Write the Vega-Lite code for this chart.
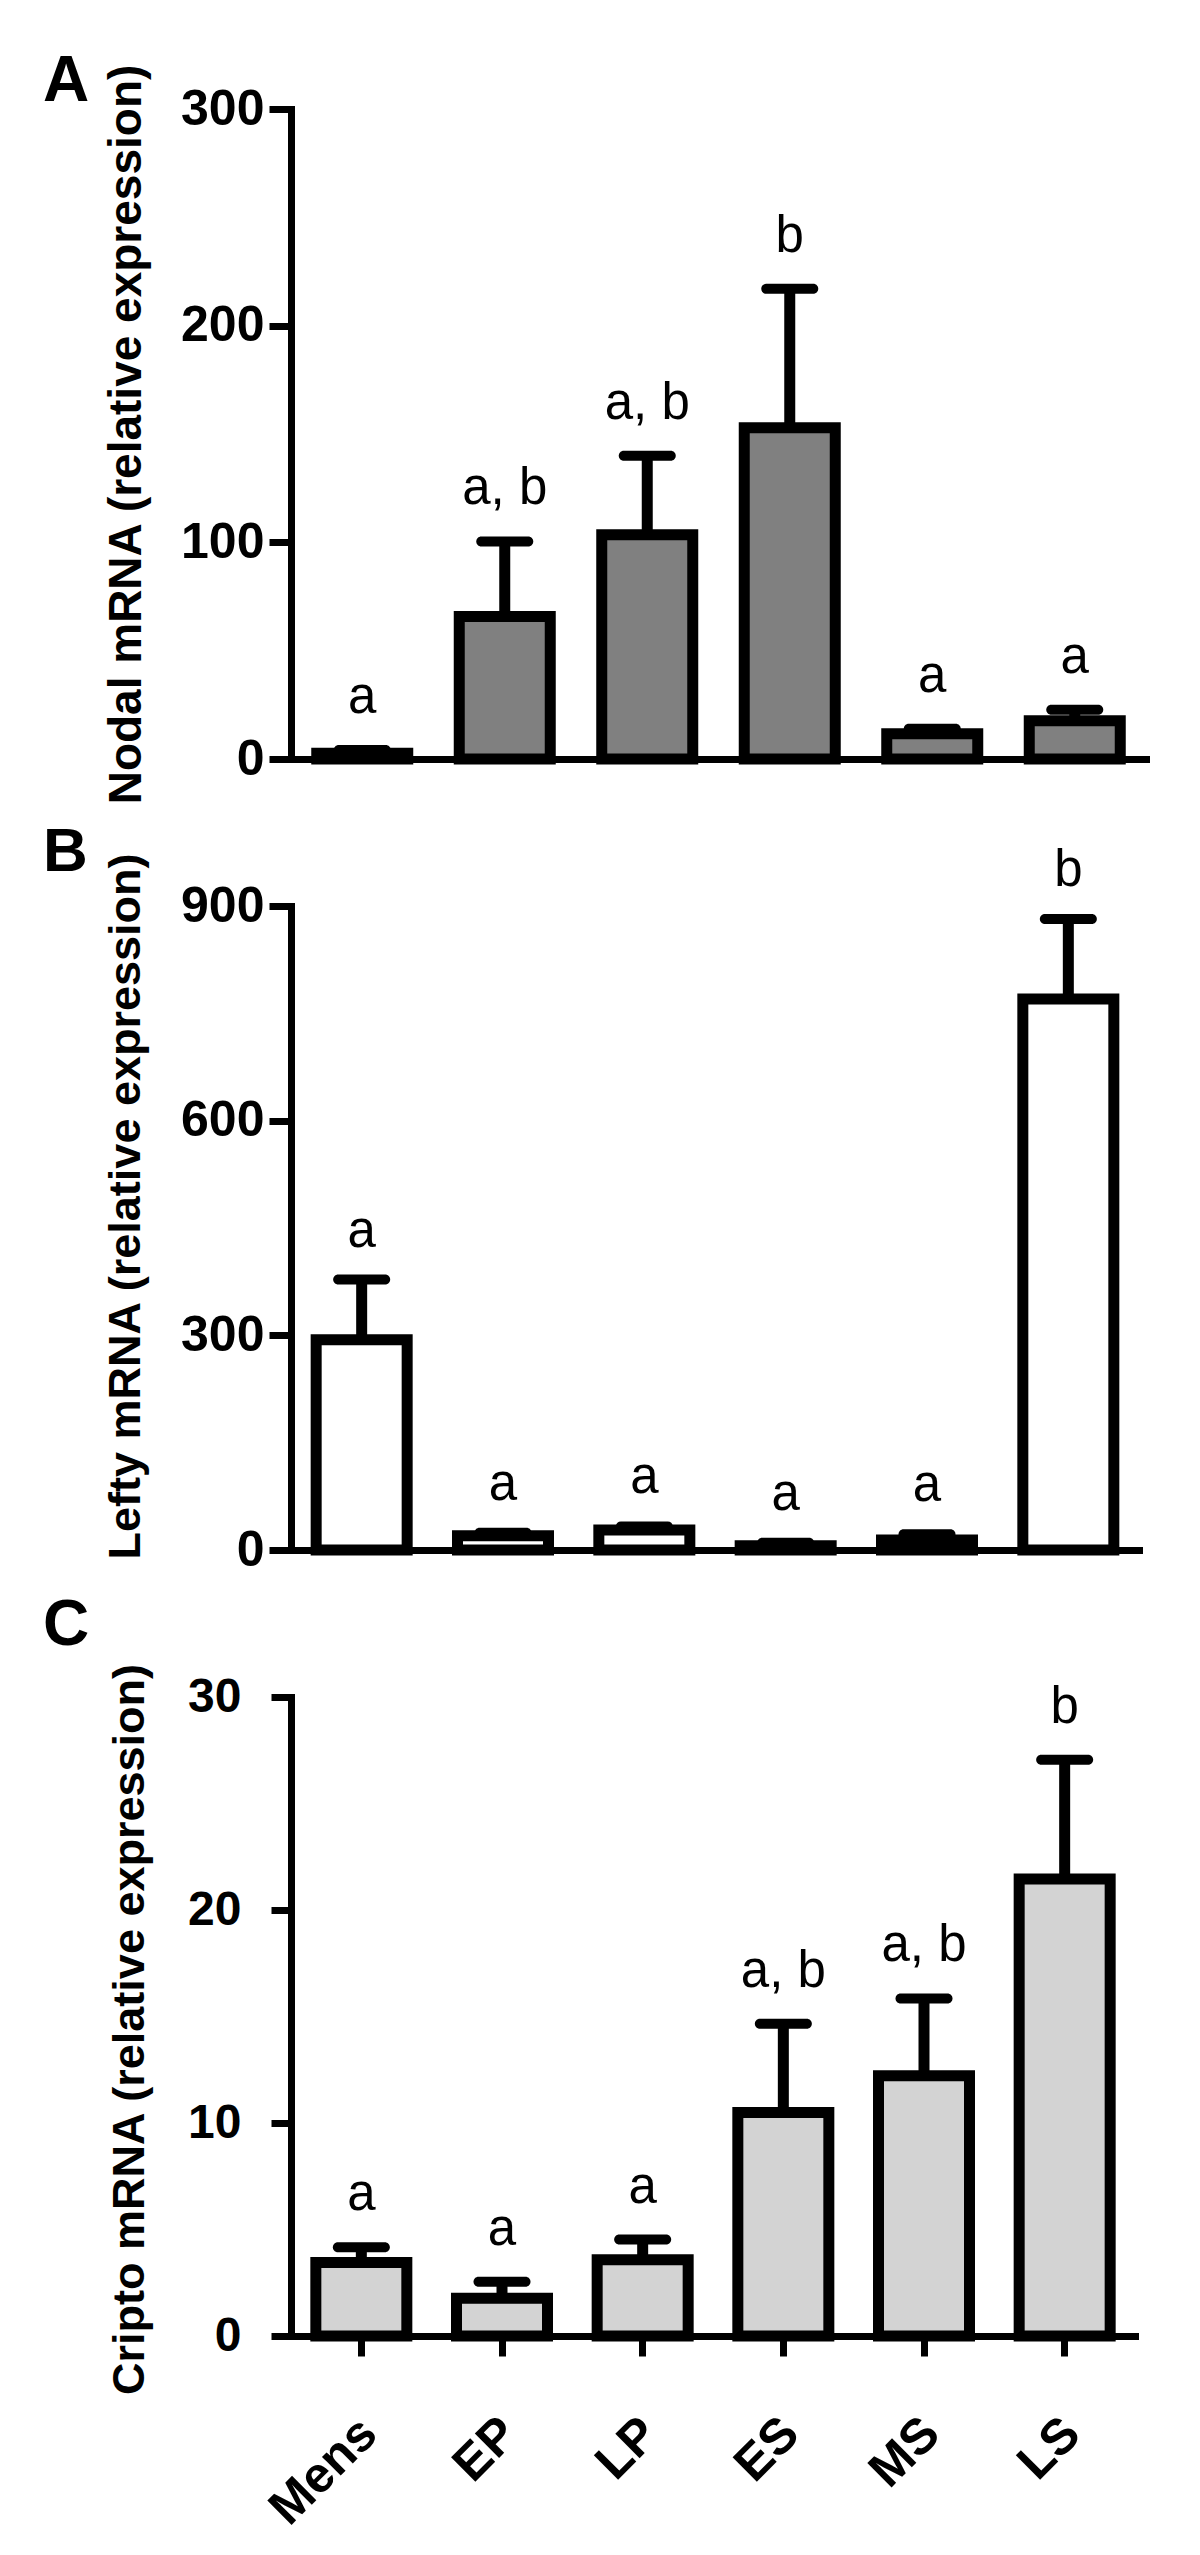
{
  "$schema": "https://vega.github.io/schema/vega-lite/v6.json",
  "background": "white",
  "padding": {"left": 43, "top": 50, "right": 20, "bottom": 10},
  "spacing": 147,
  "bounds": "flush",
  "datasets": {
    "nodal": [
      {"stage": "Mens", "mean": 2.7, "upper": 4.2, "label": "a"},
      {"stage": "EP", "mean": 65.8, "upper": 100.4, "label": "a, b"},
      {"stage": "LP", "mean": 103.5, "upper": 140, "label": "a, b"},
      {"stage": "ES", "mean": 152.9, "upper": 217, "label": "b"},
      {"stage": "MS", "mean": 11.7, "upper": 14, "label": "a"},
      {"stage": "LS", "mean": 17.6, "upper": 22.7, "label": "a"}
    ],
    "lefty": [
      {"stage": "Mens", "mean": 293.7, "upper": 377.9, "label": "a"},
      {"stage": "EP", "mean": 20, "upper": 24, "label": "a"},
      {"stage": "LP", "mean": 28, "upper": 33, "label": "a"},
      {"stage": "ES", "mean": 6, "upper": 10, "label": "a"},
      {"stage": "MS", "mean": 14, "upper": 22, "label": "a"},
      {"stage": "LS", "mean": 770, "upper": 882, "label": "b"}
    ],
    "cripto": [
      {"stage": "Mens", "mean": 3.45, "upper": 4.17, "label": "a"},
      {"stage": "EP", "mean": 1.77, "upper": 2.55, "label": "a"},
      {"stage": "LP", "mean": 3.58, "upper": 4.53, "label": "a"},
      {"stage": "ES", "mean": 10.49, "upper": 14.66, "label": "a, b"},
      {"stage": "MS", "mean": 12.22, "upper": 15.85, "label": "a, b"},
      {"stage": "LS", "mean": 21.45, "upper": 27.05, "label": "b"}
    ]
  },
  "config": {
    "font": "Liberation Sans, Arial, sans-serif",
    "view": {"stroke": null},
    "axis": {
      "domainColor": "black",
      "tickColor": "black",
      "labelColor": "black",
      "titleColor": "black",
      "grid": false,
      "domainWidth": 7,
      "domainCap": "square",
      "tickWidth": 7
    }
  },
  "vconcat": [
    {
      "data": {"name": "nodal"},
      "width": 855,
      "height": 650,
      "title": {"text": "A", "anchor": "start", "frame": "group", "dx": -248, "dy": 106, "fontSize": 64, "fontWeight": "bold", "baseline": "alphabetic", "color": "black"},
      "encoding": {
        "x": {"field": "stage", "type": "nominal", "sort": null, "scale": {"paddingInner": 0, "paddingOuter": 0},
              "axis": {"labels": false, "ticks": false, "title": null}}
      },
      "layer": [
        {"mark": {"type": "rule", "strokeWidth": 11, "color": "black"},
         "encoding": {
           "y": {"field": "mean", "type": "quantitative", "title": "Nodal mRNA (relative expression)",
                 "scale": {"domain": [0, 300], "nice": false},
                 "axis": {"values": [0, 100, 200, 300], "tickSize": 22, "labelFontSize": 50, "labelFontWeight": "bold", "labelPadding": 5, "titleFontSize": 46, "titleFontWeight": "bold", "titlePadding": 30}},
           "y2": {"field": "upper"}}},
        {"mark": {"type": "tick", "thickness": 10, "size": 57, "color": "black", "opacity": 1, "cornerRadius": 5},
         "encoding": {"y": {"field": "upper", "type": "quantitative", "title": "Nodal mRNA (relative expression)"}}},
        {"mark": {"type": "bar", "size": 91, "stroke": "black", "strokeWidth": 11, "fill": "#808080", "opacity": 1},
         "encoding": {"y": {"field": "mean", "type": "quantitative", "title": "Nodal mRNA (relative expression)"}}},
        {"mark": {"type": "text", "dy": -37, "fontSize": 51, "baseline": "alphabetic", "color": "black"},
         "encoding": {"y": {"field": "upper", "type": "quantitative", "title": "Nodal mRNA (relative expression)"}, "text": {"field": "label"}}}
      ]
    },
    {
      "data": {"name": "lefty"},
      "width": 848,
      "height": 644,
      "title": {"text": "B", "anchor": "start", "frame": "group", "dx": -248, "dy": 92, "fontSize": 62, "fontWeight": "bold", "baseline": "alphabetic", "color": "black"},
      "encoding": {
        "x": {"field": "stage", "type": "nominal", "sort": null, "scale": {"paddingInner": 0, "paddingOuter": 0},
              "axis": {"labels": false, "ticks": false, "title": null}}
      },
      "layer": [
        {"mark": {"type": "rule", "strokeWidth": 11, "color": "black"},
         "encoding": {
           "y": {"field": "mean", "type": "quantitative", "title": "Lefty mRNA (relative expression)",
                 "scale": {"domain": [0, 900], "nice": false},
                 "axis": {"values": [0, 300, 600, 900], "tickSize": 22, "labelFontSize": 50, "labelFontWeight": "bold", "labelPadding": 5, "titleFontSize": 45, "titleFontWeight": "bold", "titlePadding": 32, "titleY": 300}},
           "y2": {"field": "upper"}}},
        {"mark": {"type": "tick", "thickness": 10, "size": 57, "color": "black", "opacity": 1, "cornerRadius": 5},
         "encoding": {"y": {"field": "upper", "type": "quantitative", "title": "Lefty mRNA (relative expression)"}}},
        {"mark": {"type": "bar", "size": 91, "stroke": "black", "strokeWidth": 11, "fill": "#ffffff", "opacity": 1},
         "encoding": {"y": {"field": "mean", "type": "quantitative", "title": "Lefty mRNA (relative expression)"}}},
        {"mark": {"type": "text", "dy": -33, "fontSize": 51, "baseline": "alphabetic", "color": "black"},
         "encoding": {"y": {"field": "upper", "type": "quantitative", "title": "Lefty mRNA (relative expression)"}, "text": {"field": "label"}}}
      ]
    },
    {
      "data": {"name": "cripto"},
      "width": 844,
      "height": 639,
      "title": {"text": "C", "anchor": "start", "frame": "group", "dx": -248, "dy": 50, "fontSize": 64, "fontWeight": "bold", "baseline": "alphabetic", "color": "black"},
      "encoding": {
        "x": {"field": "stage", "type": "nominal", "sort": null, "scale": {"paddingInner": 0, "paddingOuter": 0},
              "axis": {"ticks": true, "tickSize": 20, "title": null, "labelAngle": -45, "labelAlign": "right", "labelBaseline": "top", "labelFontSize": 50, "labelFontWeight": "bold", "labelPadding": 52, "labelOffset": -10}}
      },
      "layer": [
        {"mark": {"type": "rule", "strokeWidth": 11, "color": "black"},
         "encoding": {
           "y": {"field": "mean", "type": "quantitative", "title": "Cripto mRNA (relative expression)",
                 "scale": {"domain": [0, 30], "nice": false},
                 "axis": {"values": [0, 10, 20, 30], "tickSize": 20, "labelFontSize": 48, "labelFontWeight": "bold", "labelPadding": 30, "titleFontSize": 45, "titleFontWeight": "bold", "titlePadding": 35, "titleY": 332}},
           "y2": {"field": "upper"}}},
        {"mark": {"type": "tick", "thickness": 10, "size": 57, "color": "black", "opacity": 1, "cornerRadius": 5},
         "encoding": {"y": {"field": "upper", "type": "quantitative", "title": "Cripto mRNA (relative expression)"}}},
        {"mark": {"type": "bar", "size": 91, "stroke": "black", "strokeWidth": 11, "fill": "#d3d3d3", "opacity": 1},
         "encoding": {"y": {"field": "mean", "type": "quantitative", "title": "Cripto mRNA (relative expression)"}}},
        {"mark": {"type": "text", "dy": -37, "fontSize": 51, "baseline": "alphabetic", "color": "black"},
         "encoding": {"y": {"field": "upper", "type": "quantitative", "title": "Cripto mRNA (relative expression)"}, "text": {"field": "label"}}}
      ]
    }
  ]
}
